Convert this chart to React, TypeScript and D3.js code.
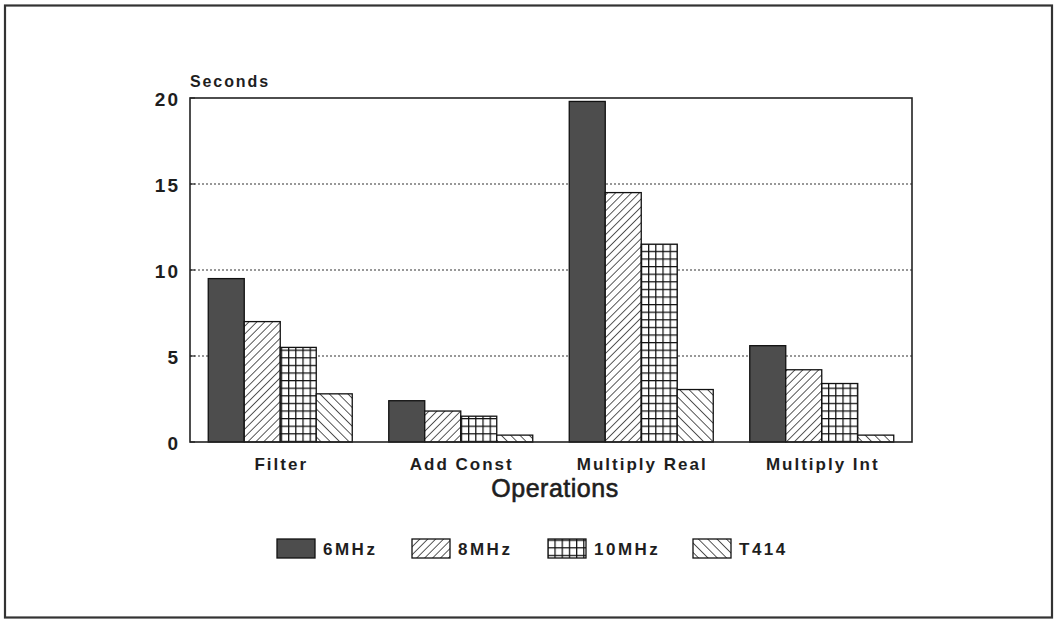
import React from "react";
import * as d3 from "d3";

const categories = ["Filter", "Add Const", "Multiply Real", "Multiply Int"];
const seriesNames = ["6MHz", "8MHz", "10MHz", "T414"];
const v6MHz = [9.5, 2.4, 19.8, 5.6];
const v8MHz = [7.0, 1.8, 14.5, 4.2];
const v10MHz = [5.5, 1.5, 11.5, 3.4];
const vT414 = [2.8, 0.4, 3.05, 0.4];
const yTicks = [0, 5, 10, 15, 20];

const W = 1058;
const H = 621;
const margin = { left: 190, top: 98, right: 912, bottom: 442 };
const FONT = "'Liberation Sans', Arial, Helvetica, sans-serif";
const TXT = "#1e1e1e";
const fills = ["#4d4d4d", "url(#hatchFwd)", "url(#grid)", "url(#hatchBack)"];

export default function App() {
  const series = [v6MHz, v8MHz, v10MHz, vT414];
  const x0 = d3.scaleBand<string>().domain(categories).range([margin.left, margin.right]).paddingInner(0).paddingOuter(0);
  const groupW = 144;
  const x1 = d3.scaleBand<string>().domain(seriesNames).range([0, groupW]);
  const y = d3.scaleLinear().domain([0, 20]).range([margin.bottom, margin.top]);

  const legendX = [277, 412, 548, 693];

  return (
    <svg width={W} height={H} style={{ position: "absolute", left: 0, top: 0, background: "#fff" }} fontFamily={FONT}>
      <defs>
        <pattern id="hatchFwd" patternUnits="userSpaceOnUse" width="5.6" height="5.6" patternTransform="rotate(45)">
          <rect width="5.6" height="5.6" fill="#fff" />
          <line x1="0" y1="0" x2="0" y2="5.6" stroke="#111" strokeWidth="1.4" />
        </pattern>
        <pattern id="hatchBack" patternUnits="userSpaceOnUse" width="6.6" height="6.6" patternTransform="rotate(-45)">
          <rect width="6.6" height="6.6" fill="#fff" />
          <line x1="0" y1="0" x2="0" y2="6.6" stroke="#111" strokeWidth="1.4" />
        </pattern>
        <pattern id="grid" patternUnits="userSpaceOnUse" width="7.2" height="7.6">
          <rect width="7.2" height="7.6" fill="#fff" />
          <line x1="0.6" y1="0" x2="0.6" y2="7.6" stroke="#111" strokeWidth="1.3" />
          <line x1="0" y1="0.6" x2="7.2" y2="0.6" stroke="#111" strokeWidth="1.3" />
        </pattern>
      </defs>
      <rect x={5} y={5.5} width={1047} height={612} fill="none" stroke="#333" strokeWidth={2.2} />

      {/* gridlines */}
      {yTicks.filter((t) => t > 0 && t < 20).map((t) => (
        <line key={t} x1={margin.left} x2={margin.right} y1={y(t)} y2={y(t)} stroke="#333" strokeWidth={1.1} strokeDasharray="2,2" />
      ))}

      {/* bars */}
      {categories.map((c, ci) => {
        const gx = (x0(c) as number) + (x0.bandwidth() - groupW) / 2;
        return series.map((s, si) => (
          <rect
            key={c + si}
            x={gx + (x1(seriesNames[si]) as number)}
            y={y(s[ci])}
            width={x1.bandwidth()}
            height={y(0) - y(s[ci])}
            fill={fills[si]}
            stroke="#111"
            strokeWidth={1.3}
          />
        ));
      })}

      {/* frame */}
      <rect x={margin.left} y={margin.top} width={margin.right - margin.left} height={margin.bottom - margin.top} fill="none" stroke="#222" strokeWidth={1.6} />

      {/* y ticks */}
      {yTicks.map((t) => (
        <g key={t}>
          <line x1={margin.left} x2={margin.left + 5} y1={y(t)} y2={y(t)} stroke="#222" strokeWidth={1.2} />
          <text x={178 + 2} y={y(t) + 8} textAnchor="end" fontSize={19} fontWeight="bold" letterSpacing={2} fill={TXT}>{t}</text>
        </g>
      ))}
      <text x={190} y={87} fontSize={16} fontWeight="bold" letterSpacing={1.9} fill={TXT}>Seconds</text>

      {/* x labels */}
      {categories.map((c) => (
        <text key={c} x={(x0(c) as number) + x0.bandwidth() / 2 + 1} y={470} textAnchor="middle" fontSize={17} fontWeight="bold" letterSpacing={2} fill={TXT}>{c}</text>
      ))}
      <text x={555} y={497} textAnchor="middle" fontSize={25} letterSpacing={0.5} fill={TXT} stroke={TXT} strokeWidth={0.6}>Operations</text>

      {/* legend */}
      {seriesNames.map((n, i) => (
        <g key={n}>
          <rect x={legendX[i]} y={539} width={38} height={19} fill={fills[i]} stroke="#111" strokeWidth={1.3} />
          <text x={legendX[i] + 46} y={555} fontSize={17} fontWeight="bold" letterSpacing={2.5} fill={TXT}>{n}</text>
        </g>
      ))}
    </svg>
  );
}
